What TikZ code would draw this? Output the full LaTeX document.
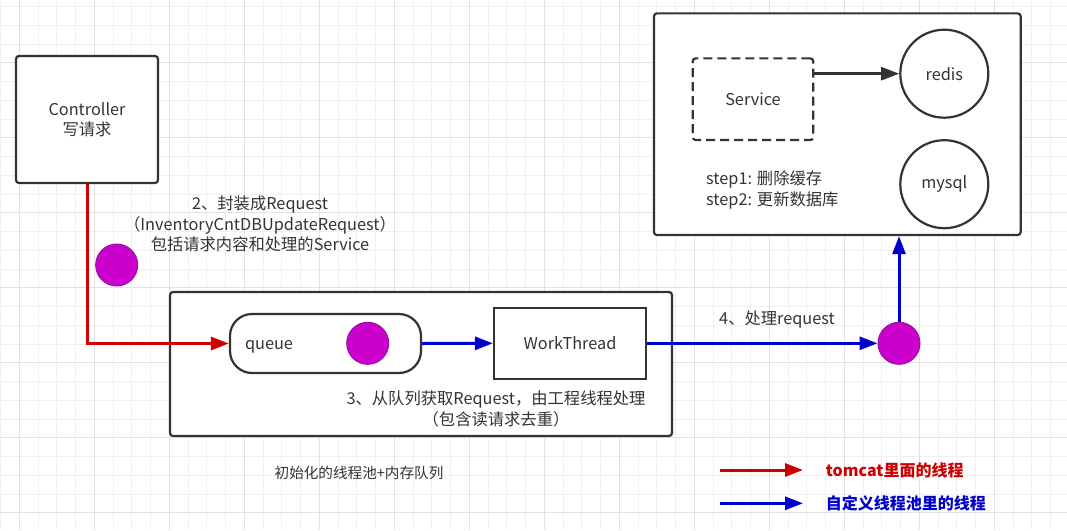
\documentclass[tikz,border=0pt]{standalone}
\usepackage{fontspec}
\setmainfont{Noto Sans CJK SC}
\usetikzlibrary{arrows.meta}
\definecolor{ink}{HTML}{333333}
\definecolor{gridminor}{HTML}{F0F0F0}
\definecolor{gridmajor}{HTML}{E2E2E2}
\definecolor{tred}{HTML}{CC0000}
\definecolor{tblue}{HTML}{0000CC}
\definecolor{ballfill}{HTML}{CC00CC}
\definecolor{ballline}{HTML}{9910A8}
\tikzset{
  txt/.style={font=\fontsize{16.3}{20.3}\selectfont, text=ink, inner sep=0pt},
  box/.style={draw=ink, line width=2.2pt, rounded corners=3pt, fill=white, txt, align=center},
  ball/.style={circle, draw=ballline, line width=1pt, fill=ballfill, minimum width=42pt, inner sep=0pt},
  dbcircle/.style={circle, draw=ink, line width=2.2pt, fill=white, minimum width=88pt, inner sep=0pt, txt},
  redarrow/.style={draw=tred, line width=3pt, -{Triangle[length=18pt,width=13pt]}},
  bluearrow/.style={draw=tblue, line width=3pt, -{Triangle[length=18pt,width=13pt]}},
  darkarrow/.style={draw=ink, line width=2.6pt, -{Triangle[length=18pt,width=13pt]}},
}
\begin{document}
\begin{tikzpicture}[x=1pt,y=-1pt]
\useasboundingbox (0,0) rectangle (1067,530);
\fill[white] (0,0) rectangle (1067,530);
% grid
\foreach \k in {0,...,56} {\draw[gridminor, line width=1pt] ({0.55+18.75*\k},0) -- ({0.55+18.75*\k},530);}
\foreach \k in {0,...,27} {\draw[gridminor, line width=1pt] (0,{6.7+18.75*\k}) -- (1067,{6.7+18.75*\k});}
\foreach \k in {1,5,...,53} {\draw[gridmajor, line width=1pt] ({0.55+18.75*\k},0) -- ({0.55+18.75*\k},530);}
\foreach \k in {3,7,...,27} {\draw[gridmajor, line width=1pt] (0,{6.7+18.75*\k}) -- (1067,{6.7+18.75*\k});}

% boxes
\node[box, minimum width=142pt, minimum height=127pt] (ctrl) at (87,119.5) {Controller\\写请求};
\node[box, minimum width=502pt, minimum height=144pt] (pool) at (421,364) {};
\node[box, minimum width=366.7pt, minimum height=221.7pt] (top) at (837.3,124.2) {};
\node[box, rounded corners=22pt, minimum width=191pt, minimum height=59pt, text width=161pt, align=left, text height=11.5pt, text depth=0pt] (queue) at (325.5,343.5) {queue};
\node[box, rounded corners=0pt, minimum width=152pt, minimum height=71pt] (wt) at (570,343.3) {WorkThread};
\node[box, dash pattern=on 9pt off 5pt, minimum width=120.6pt, minimum height=81.7pt] (svc) at (753,99.2) {Service};
\node[dbcircle] (redis) at (944.3,73.7) {redis};
\node[dbcircle] (mysql) at (944.3,184.2) {mysql};

% balls
\node[ball, minimum height=38pt] (b1) at (116.7,265) {};
\node[ball, minimum height=38pt] (b2) at (367.7,343.3) {};
\node[ball, minimum height=38pt] (b3) at (899,343.3) {};

% connectors
\draw[redarrow] (ctrl.south) |- (queue.west);
\draw[bluearrow] (queue.east) -- (wt.west);
\draw[bluearrow] (wt.east) -- (b3.west);
\draw[bluearrow] (b3.north) -- (b3 |- top.south);
\draw[darkarrow] (svc.east |- redis.west) -- (redis.west);

% labels
\node[txt, align=center] (l2) at (260,224) {2、封装成Request\\（InventoryCntDBUpdateRequest）\\包括请求内容和处理的Service};
\node[txt, align=center] (l3) at (496,409) {3、从队列获取Request，由工程线程处理\\（包含读请求去重）};
\node[txt, anchor=west] (l4) at (719,320) {4、处理request};
\node[txt, anchor=west, align=left] (steps) at (706,190) {step1: 删除缓存\\step2: 更新数据库};
\node[txt, font=\fontsize{14.6}{18}\selectfont] (pooltitle) at (359,473) {初始化的线程池+内存队列};

% legend
\coordinate (r1) at (720,470);
\coordinate (r2) at (803,470);
\coordinate (u1) at (720,503.3);
\coordinate (u2) at (803,503.3);
\draw[redarrow] (r1) -- (r2);
\draw[bluearrow] (u1) -- (u2);
\node[txt, anchor=west, text=tred, font=\fontsize{16}{20}\selectfont\bfseries] (lg1) at (825.7,470) {tomcat里面的线程};
\node[txt, anchor=west, text=tblue, font=\fontsize{16}{20}\selectfont\bfseries] (lg2) at (825.7,503.3) {自定义线程池里的线程};
\end{tikzpicture}
\end{document}
